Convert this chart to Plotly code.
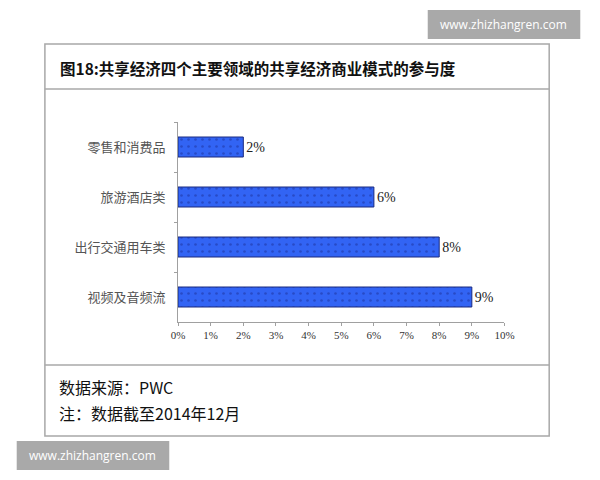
import plotly.graph_objects as go

# categories listed bottom to top
categories = ["视频及音频流", "出行交通用车类", "旅游酒店类", "零售和消费品"]
values = [9, 8, 6, 2]
value_labels = ["9%", "8%", "6%", "2%"]
tick_vals = list(range(0, 11))
tick_text = [f"{v}%" for v in tick_vals]

title_text = "图18:共享经济四个主要领域的共享经济商业模式的参与度"
source_text = "数据来源：PWC"
note_text = "注：数据截至2014年12月"
watermark = "www.zhizhangren.com"

W, H = 600, 480


def px_x(x):
    return x / W


def px_y(y):
    return 1 - y / H


cjk = "Noto Sans CJK SC, sans-serif"
serif = "Liberation Serif, DejaVu Serif, serif"

fig = go.Figure(go.Bar(
    y=categories,
    x=values,
    orientation="h",
    width=0.4,
    text=value_labels,
    textposition="outside",
    textfont=dict(family=serif, size=14, color="#222"),
    cliponaxis=False,
    marker=dict(
        color="#3264f4",
        line=dict(color="#1a2a80", width=1),
        pattern=dict(shape=".", fgcolor="#1c2f9a", size=7, solidity=0.12),
    ),
))

shapes = [
    # outer frame
    dict(type="rect", xref="paper", yref="paper",
         x0=px_x(39), x1=px_x(558), y0=px_y(436), y1=px_y(44),
         line=dict(color="#a8a8a8", width=1.5), fillcolor="rgba(0,0,0,0)"),
    dict(type="line", xref="paper", yref="paper",
         x0=px_x(39), x1=px_x(558), y0=px_y(89), y1=px_y(89),
         line=dict(color="#a8a8a8", width=1.5)),
    dict(type="line", xref="paper", yref="paper",
         x0=px_x(39), x1=px_x(558), y0=px_y(365), y1=px_y(365),
         line=dict(color="#a8a8a8", width=1.5)),
    # watermark boxes
    dict(type="rect", xref="paper", yref="paper", layer="below",
         x0=px_x(433), x1=px_x(590), y0=px_y(39), y1=px_y(10),
         line=dict(width=0), fillcolor="#a9a9a9"),
    dict(type="rect", xref="paper", yref="paper", layer="below",
         x0=px_x(10), x1=px_x(167), y0=px_y(470), y1=px_y(441),
         line=dict(width=0), fillcolor="#a9a9a9"),
]

annotations = [
    dict(text=f"<b>{title_text}</b>", xref="paper", yref="paper",
         x=px_x(52), y=px_y(68), xanchor="left", yanchor="middle",
         showarrow=False, font=dict(family=cjk, size=15.5, color="#111")),
    dict(text=source_text, xref="paper", yref="paper",
         x=px_x(51), y=px_y(387), xanchor="left", yanchor="middle",
         showarrow=False, font=dict(family=cjk, size=16, color="#111")),
    dict(text=note_text, xref="paper", yref="paper",
         x=px_x(51), y=px_y(413), xanchor="left", yanchor="middle",
         showarrow=False, font=dict(family=cjk, size=16, color="#111")),
    dict(text=watermark, xref="paper", yref="paper",
         x=px_x(511), y=px_y(24), xanchor="center", yanchor="middle",
         showarrow=False, font=dict(family="Open Sans, sans-serif", size=12, color="white")),
    dict(text=watermark, xref="paper", yref="paper",
         x=px_x(88), y=px_y(455), xanchor="center", yanchor="middle",
         showarrow=False, font=dict(family="Open Sans, sans-serif", size=12, color="white")),
]

fig.update_layout(
    width=W, height=H,
    margin=dict(l=0, r=0, t=0, b=0),
    paper_bgcolor="white",
    plot_bgcolor="white",
    showlegend=False,
    shapes=shapes,
    annotations=annotations,
    xaxis=dict(
        domain=[px_x(176), px_x(512)],
        range=[0, 10],
        tickvals=tick_vals,
        ticktext=tick_text,
        showgrid=False,
        zeroline=False,
        showline=True,
        linecolor="#a0a0a0",
        linewidth=1,
        ticks="outside",
        ticklen=3,
        tickcolor="#a0a0a0",
        tickfont=dict(family=serif, size=11, color="#333"),
        fixedrange=True,
    ),
    yaxis=dict(
        domain=[px_y(322), px_y(122)],
        range=[-0.5, 3.5],
        showgrid=False,
        zeroline=False,
        showline=True,
        linecolor="#a0a0a0",
        linewidth=1,
        ticks="outside",
        tickson="boundaries",
        ticklen=3,
        tickcolor="#a0a0a0",
        ticklabelstandoff=9,
        tickfont=dict(family=cjk, size=13, color="#555"),
        fixedrange=True,
    ),
)

# drop the default page margin and scrollbars so the figure sits at the window corner
fig.write_html(
    "out.html",
    config={"displayModeBar": False},
    post_script="document.body.style.margin='0';document.body.style.overflow='hidden';",
)
